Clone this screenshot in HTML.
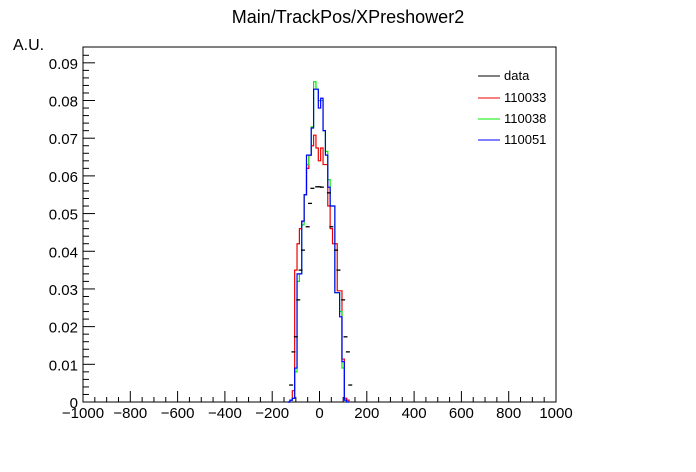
<!DOCTYPE html>
<html><head><meta charset="utf-8"><style>
body{margin:0;background:#fff;}
svg{display:block;font-family:"Liberation Sans",sans-serif;}
</style></head><body>
<svg id="c" width="696" height="472">
<text x="348" y="23" text-anchor="middle" font-size="18">Main/TrackPos/XPreshower2</text>
<text x="13" y="50" font-size="16">A.U.</text>
<rect x="83" y="47" width="473" height="355" fill="none" stroke="#000"/>
<g id="axes"></g>
<g id="series"></g>
<g font-size="13">
<line x1="478" y1="76" x2="500" y2="76" stroke="#000"/><text x="504" y="80">data</text>
<line x1="478" y1="98" x2="500" y2="98" stroke="#e00"/><text x="504" y="102">110033</text>
<line x1="478" y1="119" x2="500" y2="119" stroke="#0e0"/><text x="504" y="123">110038</text>
<line x1="478" y1="140" x2="500" y2="140" stroke="#00f"/><text x="504" y="144">110051</text>
</g>
</svg>
<script>
const binCenters=[-130,-120,-110,-100,-90,-80,-70,-60,-50,-40,-30,-20,-10,0,10,20,30,40,50,60,70,80,90,100,110,120];
const red=  [0,0.0005,0.003,0.035,0.042,0.046,0.048,0.055,0.062,0.0655,0.068,0.0708,0.0674,0.064,0.0674,0.063,0.063,0.052,0.046,0.042,0.042,0.0295,0.0295,0.0114,0.001,0.0005];
const green=[0,0.0005,0.001,0.008,0.032,0.034,0.047,0.055,0.063,0.0655,0.073,0.085,0.083,0.08,0.08,0.072,0.0665,0.059,0.052,0.052,0.029,0.029,0.024,0.009,0.0005,0];
const blue= [0,0.0005,0.001,0.009,0.034,0.034,0.048,0.055,0.0655,0.0655,0.0727,0.083,0.083,0.078,0.0806,0.072,0.0655,0.057,0.052,0.052,0.029,0.029,0.0226,0.0107,0.0005,0];
const dataX=[-120,-110,-100,-90,-80,-70,-50,-40,-30,-10,0,10,40,50,70,80,100,110,120,130];
const dataY=[0.0045,0.0133,0.0173,0.0271,0.035,0.0403,0.0465,0.0527,0.0567,0.0571,0.0571,0.057,0.0555,0.0465,0.0403,0.035,0.0271,0.0173,0.0133,0.0045];
const yTicks=[0,0.01,0.02,0.03,0.04,0.05,0.06,0.07,0.08,0.09];
const xTicks=[-1000,-800,-600,-400,-200,0,200,400,600,800,1000];
const binW=10;
const X0=83,X1=556,Y0=402,Y1=47;
const sx=v=>X0+(v+1000)/2000*(X1-X0);
const sy=v=>Y0-v/0.0942*(Y0-Y1);
const NS="http://www.w3.org/2000/svg";
function mk(t,a,p){const e=document.createElementNS(NS,t);for(const k in a)e.setAttribute(k,a[k]);p.appendChild(e);return e;}
const ax=document.getElementById('axes'),se=document.getElementById('series');
yTicks.forEach(v=>{const y=sy(v);
 const l=mk('line',{x1:X0,x2:X0+12,y1:y,y2:y,stroke:'#000'},ax);
 
 
 const t=mk('text',{x:X0-5,y:y+6,'text-anchor':'end','font-size':15},ax);t.textContent=v===0?'0':v.toFixed(2);
 
 
 for(let k=1;k<5;k++){const v2=v+k*0.002;if(v2<0.094){const yy=sy(v2);mk('line',{x1:X0,x2:X0+6,y1:yy,y2:yy,stroke:'#000'},ax);}}
});
xTicks.forEach(v=>{const x=sx(v);
 const l=mk('line',{x1:x,x2:x,y1:Y0,y2:Y0-11,stroke:'#000'},ax);
 
 
 const t=mk('text',{x:x,y:Y0+16,'text-anchor':'middle','font-size':15},ax);t.textContent=v<0?'\u2212'+(-v):String(v);
 
 
 for(let k=1;k<4;k++){const v2=v+k*50;if(v2<1000){const xx=sx(v2);mk('line',{x1:xx,x2:xx,y1:Y0,y2:Y0-5,stroke:'#000'},ax);}}
});
function step(vals,color,name){
 let d='M'+sx(binCenters[0]-binW/2)+','+sy(0);
 vals.forEach((v,i)=>{const a=sx(binCenters[i]-binW/2),b=sx(binCenters[i]+binW/2);d+=' L'+a+','+sy(v)+' L'+b+','+sy(v);});
 d+=' L'+sx(binCenters[binCenters.length-1]+binW/2)+','+sy(0);
 const p=mk('path',{d:d,fill:'none',stroke:color,'stroke-width':1.2},se);
 
 
}
step(red,'#e00','series-110033');
step(green,'#0e0','series-110038');
step(blue,'#00f','series-110051');
dataX.forEach((x,i)=>{const c=sx(x),y=sy(dataY[i]);
 const l=mk('line',{x1:c-2,x2:c+2,y1:y,y2:y,stroke:'#000','stroke-width':1.3},se);
 
 
});
</script>
</body></html>
